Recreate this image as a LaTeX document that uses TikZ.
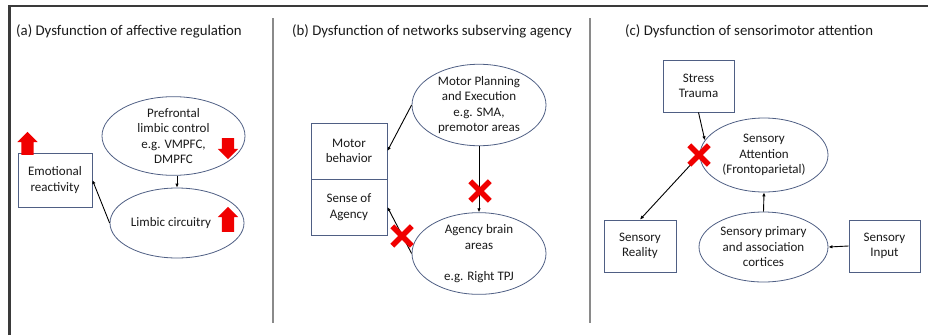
\documentclass[tikz,border=0pt]{standalone}
\usepackage{fontspec}
\setmainfont{Carlito}
\usetikzlibrary{arrows.meta,shapes.geometric,shapes.arrows,shapes.misc}
\definecolor{rimblue}{HTML}{4F5F84}
\definecolor{txtgray}{HTML}{1A1A1A}
\definecolor{alertred}{HTML}{F00000}
\definecolor{panelgray}{HTML}{8A8A8A}
\definecolor{framegray}{HTML}{3A3A3A}

\begin{document}
\begin{tikzpicture}[x=1pt,y=-1pt,
lbl/.style={font=\fontsize{13}{15.5}\selectfont,align=center,text=txtgray},
box/.style={lbl,draw=rimblue,fill=white,line width=0.8pt,inner sep=0pt},
oval/.style={lbl,ellipse,draw=rimblue,fill=white,line width=0.8pt,
inner sep=0pt},
ttl/.style={font=\fontsize{14.8}{17}\selectfont,anchor=base west,
inner sep=0pt,text=txtgray},
arr/.style={-{Latex[length=4pt,width=3.5pt]},line width=0.9pt},
upblk/.style={single arrow,fill=alertred,inner sep=6pt,
single arrow head extend=4pt,single arrow head indent=0pt,
shape border rotate=90},
dnblk/.style={upblk,shape border rotate=270},
nox/.style={cross out,draw=alertred,line width=5.5pt,minimum size=14pt,
inner sep=0pt}
]
\useasboundingbox (0,0) rectangle (928,335);
% frame and panel rules
\draw[framegray,line width=2.5pt] (9.5,335) -- (9.5,6) -- (928,6);
\draw[panelgray,line width=1.3pt] (273,18) -- (273,323);
\draw[panelgray,line width=1.3pt] (590,18) -- (590,323);

% (a)
\node[ttl] (ta) at (16,35) {(a) Dysfunction of affective regulation};
\node[box,minimum width=74pt,minimum height=54pt] (emo) at (55,180)
  {Emotional\\reactivity};
\node[oval,minimum width=143pt,minimum height=72pt] (pfc) at (173.5,136)
  {Prefrontal\\limbic control\\e.g. VMPFC,\\DMPFC};
\node[oval,minimum width=134pt,minimum height=70pt] (lim) at (177,223)
  {Limbic circuitry\hspace*{12pt}};
\node[upblk,minimum height=23pt] (emoup) at (27.5,146.5) {};
\node[dnblk,minimum height=21pt] (pfcdn) at (228,145.5) {};
\node[upblk,minimum height=25pt] (limup) at (228,222.5) {};
\draw[arr] (lim.north |- pfc.south) -- (lim.north);
\draw[arr] (lim.west) -- (emo.east);

% (b)
\node[ttl] (tb) at (292,35) {(b) Dysfunction of networks subserving agency};
\node[oval,minimum width=134pt,minimum height=76pt] (mp) at (479,105)
  {Motor Planning\\and Execution\\e.g. SMA,\\premotor areas};
\node[box,minimum width=76pt,minimum height=56pt] (beh) at (349,151)
  {Motor\\behavior};
\node[box,minimum width=76pt,minimum height=56pt] (agn) at (349,207)
  {Sense of\\Agency};
\node[oval,minimum width=134pt,minimum height=77pt] (ag) at (479,253.5)
  {Agency brain\\areas\\[15.5pt]e.g. Right TPJ};
\draw[arr] (mp.west) -- (beh.east);
\draw[arr] (mp.south) -- (ag.north);
\draw[arr] (ag.west) -- (agn.east);
\node[nox] (xb1) at (480,191) {};
\node[nox] (xb2) at (402,236) {};

% (c)
\node[ttl] (tc) at (625,35) {(c) Dysfunction of sensorimotor attention};
\node[box,minimum width=71pt,minimum height=52pt] (st) at (698.5,86)
  {Stress\\Trauma};
\node[oval,minimum width=128pt,minimum height=74pt] (att) at (764,155)
  {Sensory\\Attention\\(Frontoparietal)};
\node[box,minimum width=72pt,minimum height=52pt] (sr) at (640,246)
  {Sensory\\Reality};
\node[oval,minimum width=129pt,minimum height=70pt] (prim) at (763.5,247)
  {Sensory primary\\and association\\cortices};
\node[box,minimum width=71pt,minimum height=52pt] (inp) at (884.5,246)
  {Sensory\\Input};
\draw[arr] (st.south) -- (att.166);
\draw[arr] (att.west) -- (sr.north);
\draw[arr] (prim.north) -- (att.south);
\draw[arr] (inp.west) -- (prim.east);
\node[nox] (xc) at (699,155) {};
\end{tikzpicture}
\end{document}
